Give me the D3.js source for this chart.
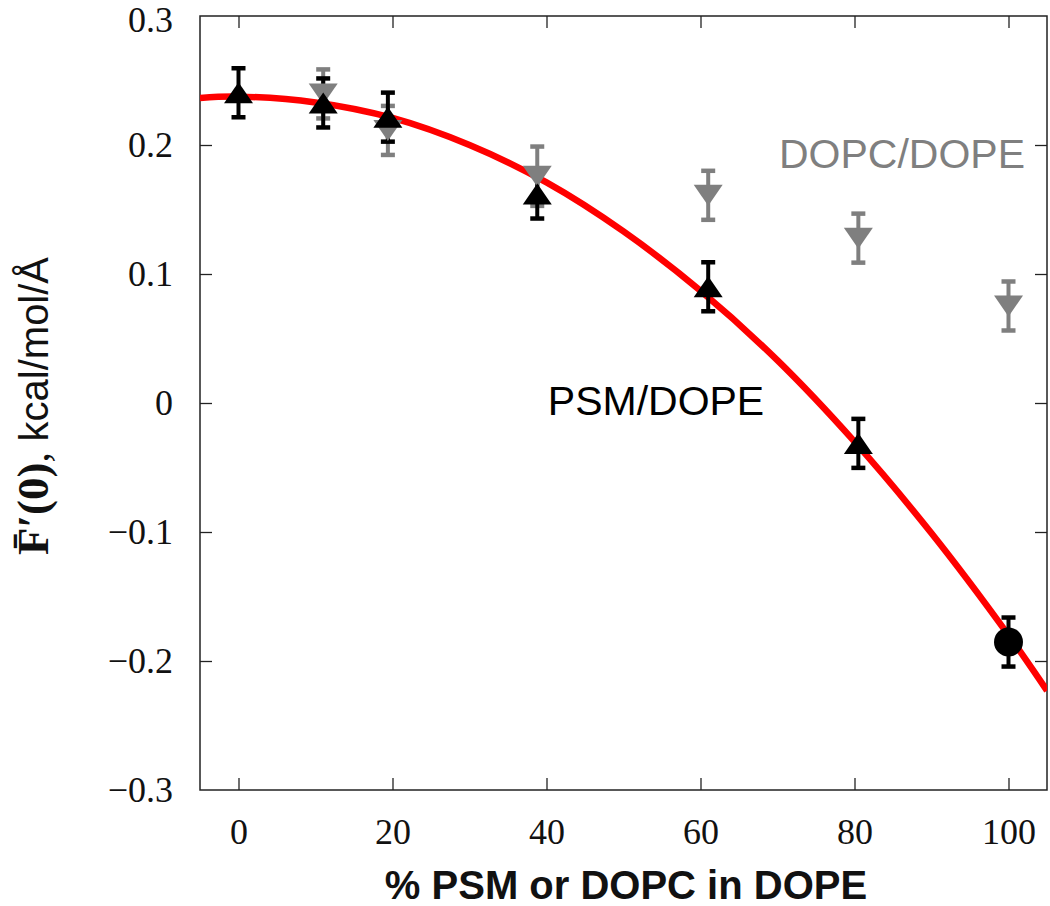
<!DOCTYPE html>
<html>
<head>
<meta charset="utf-8">
<script src="https://cdn.jsdelivr.net/npm/d3@7"></script>
<style>
  body { margin: 0; background: #fff; }
  svg { display: block; }
</style>
</head>
<body>
<svg id="chart" width="1050" height="906"></svg>
<script>
// ---------- data ----------
const xTicks = [0, 20, 40, 60, 80, 100];
const yTicks = [-0.3, -0.2, -0.1, 0, 0.1, 0.2, 0.3];

// PSM/DOPE (black up-triangles)
const psmX   = [0, 11, 19.4, 38.8, 61, 80.5];
const psmY   = [0.2405, 0.2326, 0.2216, 0.162, 0.0901, -0.0313];
const psmErr = [0.019, 0.019, 0.019, 0.019, 0.019, 0.019];

// pure DOPE (black circle)
const dopeX   = [100];
const dopeY   = [-0.1853];
const dopeErr = [0.019];

// DOPC/DOPE (grey down-triangles)
const dopcX   = [11, 19.4, 38.8, 61, 80.5, 100];
const dopcY   = [0.2396, 0.2113, 0.1758, 0.161, 0.1278, 0.0752];
const dopcErr = [0.019, 0.019, 0.023, 0.019, 0.019, 0.019];

// red fit curve
const fitX = [-5, 0, 10, 20, 30, 40, 50, 60, 70, 80, 90, 100, 105];
const fitY = [0.2365, 0.2375, 0.233, 0.221, 0.200, 0.171, 0.133, 0.087, 0.033, -0.030, -0.101, -0.180, -0.223];

// ---------- layout ----------
const svg = d3.select("#chart");
const L = 200, R = 1047, T = 16, B = 790;
const x = d3.scaleLinear().domain([-5, 105]).range([L, R]);
const y = d3.scaleLinear().domain([-0.3, 0.3]).range([B, T]);

const fmtY = v => Math.abs(v) < 1e-9 ? "0" : (v < 0 ? "\u2212" : "") + Math.abs(v).toFixed(1);
const axisColor = "#222";

// axes
const gB = svg.append("g").attr("transform", `translate(0,${B})`)
  .call(d3.axisBottom(x).tickValues(xTicks).tickSizeInner(-12).tickSizeOuter(0).tickPadding(28).tickFormat(d3.format("d")));
const gT = svg.append("g").attr("transform", `translate(0,${T})`)
  .call(d3.axisTop(x).tickValues(xTicks).tickSizeInner(-12).tickSizeOuter(0).tickFormat(""));
const gL = svg.append("g").attr("transform", `translate(${L},0)`)
  .call(d3.axisLeft(y).tickValues(yTicks).tickSizeInner(-12).tickSizeOuter(0).tickPadding(27).tickFormat(fmtY));
const gR = svg.append("g").attr("transform", `translate(${R},0)`)
  .call(d3.axisRight(y).tickValues(yTicks).tickSizeInner(-12).tickSizeOuter(0).tickFormat(""));

[gB, gT, gL, gR].forEach(g => {
  g.select(".domain").remove();
  g.selectAll(".tick line").attr("stroke", axisColor).attr("stroke-width", 1.3);
  g.selectAll(".tick text")
    .attr("font-family", "'Liberation Serif', 'DejaVu Serif', serif")
    .attr("font-size", 36).attr("fill", "#111");
});
// remove ticks that coincide with frame
gL.selectAll(".tick").filter(d => d === 0.3 || d === -0.3).select("line").remove();
gR.selectAll(".tick").filter(d => d === 0.3 || d === -0.3).select("line").remove();
// keep the top label inside the picture
gL.selectAll(".tick").filter(d => d === 0.3).select("text").attr("dy", "0.44em");

// frame
svg.append("rect").attr("x", L).attr("y", T).attr("width", R - L).attr("height", B - T)
  .attr("fill", "none").attr("stroke", axisColor).attr("stroke-width", 1.5);

// clip
svg.append("clipPath").attr("id", "clip").append("rect")
  .attr("x", L).attr("y", T).attr("width", R - L).attr("height", B - T);

const plot = svg.append("g").attr("clip-path", "url(#clip)");

// fit curve
const fitData = fitX.map((v, i) => [v, fitY[i]]);
plot.append("path").datum(fitData)
  .attr("d", d3.line().x(d => x(d[0])).y(d => y(d[1])).curve(d3.curveCatmullRom.alpha(0.5)))
  .attr("fill", "none").attr("stroke", "#ff0000").attr("stroke-width", 6.5);

// error bars helper
function errorBars(xs, ys, es, color) {
  const data = xs.map((v, i) => ({ x: v, y: ys[i], e: es[i] }));
  const g = plot.append("g");
  g.selectAll("line.bar").data(data).join("line")
    .attr("x1", d => x(d.x)).attr("x2", d => x(d.x))
    .attr("y1", d => y(d.y - d.e)).attr("y2", d => y(d.y + d.e))
    .attr("stroke", color).attr("stroke-width", 4);
  ["lo", "hi"].forEach(k => {
    g.selectAll("line.cap" + k).data(data).join("line")
      .attr("x1", d => x(d.x) - 7).attr("x2", d => x(d.x) + 7)
      .attr("y1", d => y(k === "lo" ? d.y - d.e : d.y + d.e))
      .attr("y2", d => y(k === "lo" ? d.y - d.e : d.y + d.e))
      .attr("stroke", color).attr("stroke-width", 4.5);
  });
}
function triangles(xs, ys, color, up) {
  const data = xs.map((v, i) => ({ x: v, y: ys[i] }));
  const hw = 14.5, hh = 10.5;
  plot.append("g").selectAll("path").data(data).join("path")
    .attr("d", d => {
      const cx = x(d.x), cy = y(d.y);
      return up
        ? `M${cx - hw},${cy + hh}L${cx + hw},${cy + hh}L${cx},${cy - hh}Z`
        : `M${cx - hw},${cy - hh}L${cx + hw},${cy - hh}L${cx},${cy + hh}Z`;
    })
    .attr("fill", color);
}

const grey = "#7f7f7f";
errorBars(dopcX, dopcY, dopcErr, grey);
errorBars(psmX, psmY, psmErr, "#000");
errorBars(dopeX, dopeY, dopeErr, "#000");
triangles(dopcX, dopcY, grey, false);
triangles(psmX, psmY, "#000", true);
plot.append("g").selectAll("circle").data(dopeX.map((v, i) => ({ x: v, y: dopeY[i] }))).join("circle")
  .attr("cx", d => x(d.x)).attr("cy", d => y(d.y)).attr("r", 14.5).attr("fill", "#000");

// in-plot labels
svg.append("text").attr("x", 902).attr("y", 168).attr("text-anchor", "middle")
  .attr("font-family", "'Liberation Sans', Arial, sans-serif").attr("font-size", 41)
  .attr("fill", grey).text("DOPC/DOPE");
svg.append("text").attr("x", 656).attr("y", 415).attr("text-anchor", "middle")
  .attr("font-family", "'Liberation Sans', Arial, sans-serif").attr("font-size", 41)
  .attr("fill", "#000").text("PSM/DOPE");

// x title
svg.append("text").attr("x", 626).attr("y", 899).attr("text-anchor", "middle")
  .attr("font-family", "'Liberation Sans', Arial, sans-serif").attr("font-size", 40)
  .attr("font-weight", "bold").attr("fill", "#111").text("% PSM or DOPC in DOPE");

// y title
const yt = svg.append("text").attr("transform", "translate(48,406) rotate(-90)")
  .attr("text-anchor", "middle").attr("fill", "#111");
yt.append("tspan").attr("font-family", "'Liberation Serif', 'DejaVu Serif', serif")
  .attr("font-weight", "bold").attr("font-size", 45).text("F\u0304\u2032(0)");
yt.append("tspan").attr("font-family", "'Liberation Serif', 'DejaVu Serif', serif")
  .attr("font-size", 42).text(", ");
yt.append("tspan").attr("font-family", "'Liberation Sans', Arial, sans-serif")
  .attr("font-size", 40).text("kcal/mol/\u00C5");
</script>
</body>
</html>
